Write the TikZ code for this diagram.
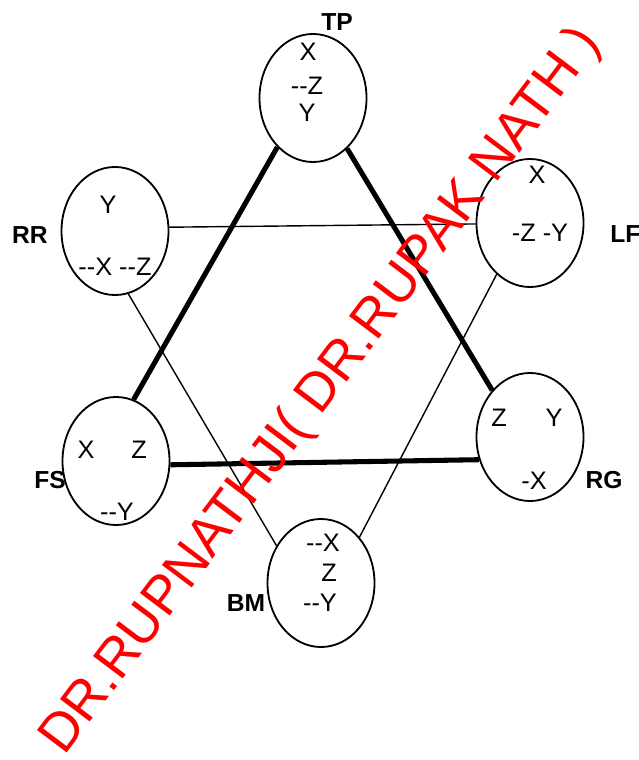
\documentclass[tikz,border=0pt]{standalone}
\usepackage{fontspec}
\setmainfont{Liberation Sans}[Ligatures=TeXOff]
\usetikzlibrary{shapes.geometric}

\begin{document}
\begin{tikzpicture}[x=0.025cm,y=-0.025cm,
    font=\fontsize{18}{21}\selectfont,
    face/.style={ellipse,draw,line width=1.3pt,inner sep=0pt,
        minimum width=2.675cm,minimum height=3.2cm},
    txt/.style={inner sep=0pt},
    tag/.style={inner sep=0pt,font=\fontsize{17.5}{21}\selectfont\bfseries},
    link/.style={line width=1pt},
    bar/.style={line width=3.6pt}]
    \useasboundingbox (0,0) rectangle (638,760);
    % the six faces
    \node [face] (TP) at (313,98) {};
    \node [face] (RR) at (115,231) {};
    \node [face] (LF) at (530,223) {};
    \node [face] (FS) at (116,461) {};
    \node [face] (RG) at (530,437) {};
    \node [face] (BM) at (321,583) {};
    \node [tag] (TPtag) at (337,22) {TP};
    \node [tag] (RRtag) at (30,235) {RR};
    \node [tag,anchor=west] (LFtag) at (610,234) {LF};
    \node [tag] (FStag) at (50,480) {FS};
    \node [tag] (RGtag) at (604,480) {RG};
    \node [tag] (BMtag) at (246,603) {BM};
    % axes in each face
    \node [txt] (TPx) at (308,52) {X};
    \node [txt] (TPz) at (307,86) {--Z};
    \node [txt] (TPy) at (307,113) {Y};
    \node [txt] (RRy) at (108,205) {Y};
    \node [txt] (RRxz) at (115,267) {--X --Z};
    \node [txt] (LFx) at (537,175) {X};
    \node [txt] (LFzy) at (540,233) {-Z -Y};
    \node [txt] (FSx) at (86,450) {X};
    \node [txt] (FSz) at (139,450) {Z};
    \node [txt] (FSy) at (117,512) {--Y};
    \node [txt] (RGz) at (499,418) {Z};
    \node [txt] (RGy) at (554,418) {Y};
    \node [txt] (RGx) at (534,481) {-X};
    \node [txt] (BMx) at (323,543) {--X};
    \node [txt] (BMz) at (329,573) {Z};
    \node [txt] (BMy) at (320,603) {--Y};
    % the two triangles
    \draw [bar] (TP.234) -- (FS.74);
    \draw [bar] (TP.304) -- (RG.129);
    \draw [bar] (FS.-4) -- (RG.204);
    \draw [link] (RR.4) -- (LF.181);
    \draw [link] (RR.282) -- (BM.140);
    \draw [link] (LF.237) -- (BM.50);
    % watermark
    \node [text=red,inner sep=0pt,font=\fontsize{38.5}{38}\selectfont,
        rotate=53,anchor=base west] (mark) at (64,757)
        {DR.RUPNATHJI( DR.RUPAK NATH )};
\end{tikzpicture}
\end{document}
